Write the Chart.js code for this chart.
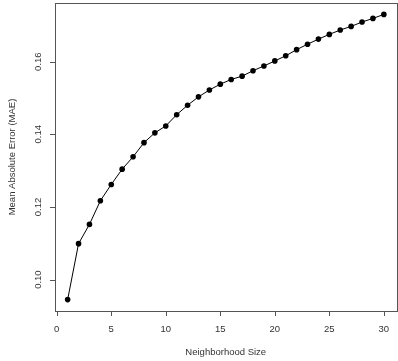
<!DOCTYPE html>
<html>
<head>
<meta charset="utf-8">
<script src="https://cdn.jsdelivr.net/npm/chart.js@4"></script>
<style>
  html, body { margin: 0; padding: 0; background: #fff; overflow: hidden; }
  canvas { display: block; }
</style>
</head>
<body>
<canvas id="maeChart" width="398" height="361"></canvas>
<script>
const neighborhoodSizes = [1, 2, 3, 4, 5, 6, 7, 8, 9, 10, 11, 12, 13, 14, 15,
  16, 17, 18, 19, 20, 21, 22, 23, 24, 25, 26, 27, 28, 29, 30];
const maeValues = [0.0945, 0.1099, 0.1152, 0.1217, 0.1262, 0.1304, 0.1338, 0.1377,
  0.1404, 0.1423, 0.1454, 0.1480, 0.1503, 0.1522, 0.1538, 0.1551, 0.1560, 0.1575,
  0.1588, 0.1602, 0.1616, 0.1633, 0.1648, 0.1662, 0.1675, 0.1687, 0.1697, 0.1709,
  0.1719, 0.1730];
const xTicks = [0, 5, 10, 15, 20, 25, 30];
const yTicks = [0.10, 0.12, 0.14, 0.16];
const xTitle = "Neighborhood Size";
const yTitle = "Mean Absolute Error (MAE)";

const FONT = "9.5px 'Liberation Sans', Arial, sans-serif";

// R-style box, ticks and labels drawn from the chart's own scales
const rAxes = {
  id: "rAxes",
  afterDraw(chart) {
    const ctx = chart.ctx;
    const area = chart.chartArea;
    const xs = chart.scales.x;
    const ys = chart.scales.y;
    ctx.save();
    ctx.strokeStyle = "#555";
    ctx.lineWidth = 1;
    ctx.strokeRect(Math.round(area.left) + 0.5, Math.round(area.top) + 0.5,
      Math.round(area.right - area.left), Math.round(area.bottom - area.top));

    ctx.fillStyle = "#333";
    ctx.font = FONT;

    // x axis ticks
    ctx.beginPath();
    xTicks.forEach(t => {
      const px = Math.round(xs.getPixelForValue(t)) + 0.5;
      ctx.moveTo(px, area.bottom);
      ctx.lineTo(px, area.bottom + 5);
    });
    ctx.stroke();
    ctx.textAlign = "center";
    ctx.textBaseline = "middle";
    xTicks.forEach(t => {
      ctx.fillText(String(t), xs.getPixelForValue(t), area.bottom + 18);
    });

    // y axis ticks
    ctx.beginPath();
    yTicks.forEach(t => {
      const py = Math.round(ys.getPixelForValue(t)) + 0.5;
      ctx.moveTo(area.left, py);
      ctx.lineTo(area.left - 5, py);
    });
    ctx.stroke();
    yTicks.forEach(t => {
      ctx.save();
      ctx.translate(area.left - 17, ys.getPixelForValue(t));
      ctx.rotate(-Math.PI / 2);
      ctx.fillText(t.toFixed(2), 0, 0);
      ctx.restore();
    });

    // titles
    ctx.fillText(xTitle, (area.left + area.right) / 2, area.bottom + 41);
    ctx.save();
    ctx.translate(12, (area.top + area.bottom) / 2);
    ctx.rotate(-Math.PI / 2);
    ctx.fillText(yTitle, 0, 0);
    ctx.restore();
    ctx.restore();
  }
};

const ctx = document.getElementById("maeChart").getContext("2d");
new Chart(ctx, {
  type: "line",
  data: {
    labels: neighborhoodSizes,
    datasets: [{
      data: neighborhoodSizes.map((x, i) => ({ x: x, y: maeValues[i] })),
      borderColor: "#000",
      borderWidth: 1,
      backgroundColor: "#000",
      pointBackgroundColor: "#000",
      pointBorderColor: "#000",
      pointBorderWidth: 0,
      pointRadius: 2.8,
      tension: 0
    }]
  },
  options: {
    responsive: false,
    animation: false,
    events: [],
    layout: { autoPadding: false, padding: { left: 55, right: 1.5, top: 3, bottom: 50 } },
    plugins: { legend: { display: false }, tooltip: { enabled: false } },
    scales: {
      x: { type: "linear", display: false, min: -0.16, max: 31.16 },
      y: { type: "linear", display: false, min: 0.09136, max: 0.17614 }
    }
  },
  plugins: [rAxes]
});
</script>
</body>
</html>
